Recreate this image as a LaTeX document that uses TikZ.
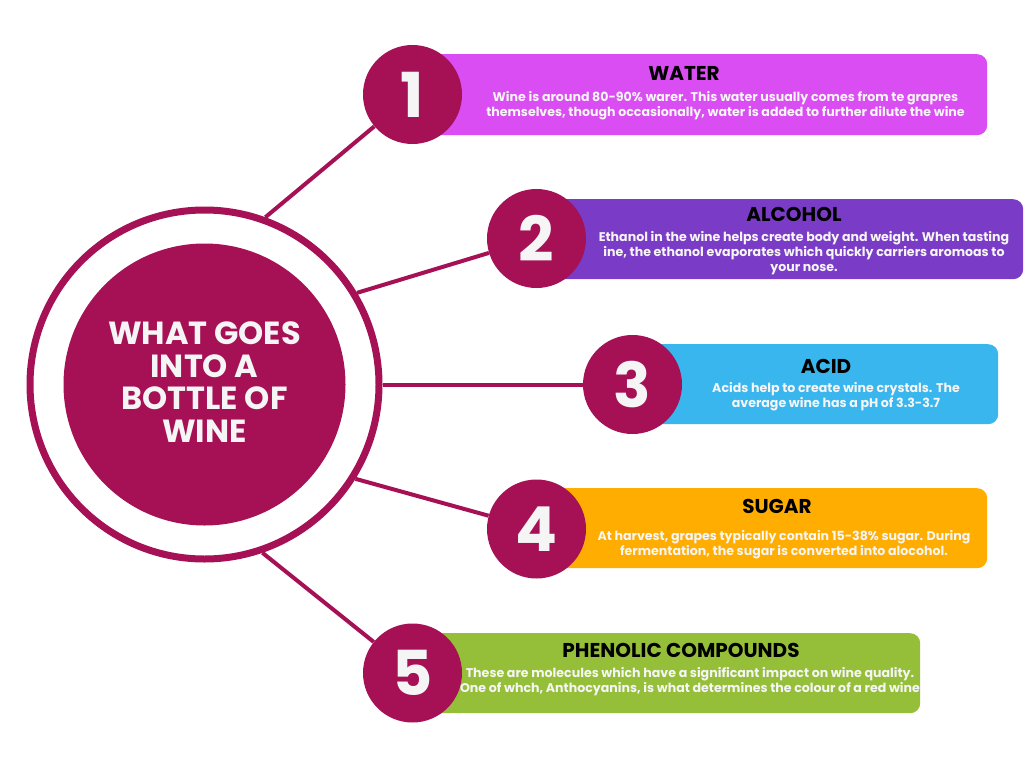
\documentclass[tikz,border=0pt]{standalone}
\usepackage{fontspec}
\setmainfont{Poppins}
\definecolor{winec}{HTML}{A61156}
\definecolor{numw}{HTML}{F5F5F5}
\definecolor{cwater}{HTML}{D94DF2}
\definecolor{calcohol}{HTML}{7A3CC6}
\definecolor{cacid}{HTML}{3AB6EF}
\definecolor{csugar}{HTML}{FFAD00}
\definecolor{cphen}{HTML}{96BF39}
\begin{document}
\begin{tikzpicture}[x=1pt,y=-1pt,
  numc/.style={circle, fill=winec, minimum size=99pt, inner sep=0pt, text=numw,
    font=\fontsize{62}{62}\selectfont\bfseries},
  conn/.style={draw=winec, line width=4pt},
  boxc/.style={rectangle, rounded corners=10pt, draw=none, inner sep=0pt, anchor=north west},
  ttl/.style={font=\fontsize{20}{20}\selectfont\bfseries, text=black, inner sep=0pt},
  bodytxt/.style={font=\fontsize{12.6}{15}\selectfont\bfseries, text=numw, align=center, inner sep=0pt}
]
\useasboundingbox (0,0) rectangle (1024,768);
\fill[white] (0,0) rectangle (1024,768);

% central ring and disk
\node[circle, draw=winec, line width=7pt, minimum size=349pt, inner sep=0pt] (ring) at (204.5,384.5) {};
\node[circle, fill=winec, minimum size=282pt, inner sep=0pt] (core) at (204.5,384.5) {};
\node[font=\fontsize{32}{32.5}\selectfont\bfseries, text=numw, align=center, inner sep=0pt] (coretxt) at (204.5,382) {WHAT GOES\\INTO A\\BOTTLE OF\\WINE};

% boxes
\node[boxc, fill=cwater,   minimum width=574.5pt, minimum height=81pt] (b1) at (412.5,54) {};
\node[boxc, fill=calcohol, minimum width=486.5pt, minimum height=80pt] (b2) at (536.5,199) {};
\node[boxc, fill=cacid,    minimum width=365.5pt, minimum height=80pt] (b3) at (632.5,344) {};
\node[boxc, fill=csugar,   minimum width=450.5pt, minimum height=80pt] (b4) at (536.5,488) {};
\node[boxc, fill=cphen,    minimum width=507.5pt, minimum height=80pt] (b5) at (412.5,633) {};

% number circles
\node[numc] (n1) at (412.5,94.5) {1};
\node[numc] (n2) at (536.5,238.5) {2};
\node[numc] (n3) at (632.5,384.5) {3};
\node[numc] (n4) at (536.5,529) {4};
\node[numc] (n5) at (412.5,673) {5};

% connectors
\draw[conn] (ring.70) -- (n1);
\draw[conn] (ring.31) -- (n2);
\draw[conn] (ring.0) -- (n3);
\draw[conn] (ring.-32) -- (n4);
\draw[conn] (ring.-71) -- (n5);

% titles
\node[ttl] (t1) at (684,73) {WATER};
\node[ttl] (t2) at (794,214) {ALCOHOL};
\node[ttl] (t3) at (826,366) {ACID};
\node[ttl] (t4) at (777,506) {SUGAR};
\node[ttl] (t5) at (681,650.5) {PHENOLIC COMPOUNDS};

% body texts
\node[bodytxt] (d1) at (725.5,105.5) {Wine is around 80-90\% warer. This water usually comes from te grapres\\themselves, though occasionally, water is added to further dilute the wine};
\node[bodytxt] (d2) at (804,253.5) {Ethanol in the wine helps create body and weight. When tasting\\ine, the ethanol evaporates which quickly carriers aromoas to\\your nose.};
\node[bodytxt] (d3) at (836,396.5) {Acids help to create wine crystals. The\\average wine has a pH of 3.3-3.7};
\node[bodytxt] (d4) at (784,544.5) {At harvest, grapes typically contain 15-38\% sugar. During\\fermentation, the sugar is converted into alocohol.};
\node[bodytxt] (d5) at (690,682) {These are molecules which have a significant impact on wine quality.\\One of whch, Anthocyanins, is what determines the colour of a red wine};
\end{tikzpicture}
\end{document}
